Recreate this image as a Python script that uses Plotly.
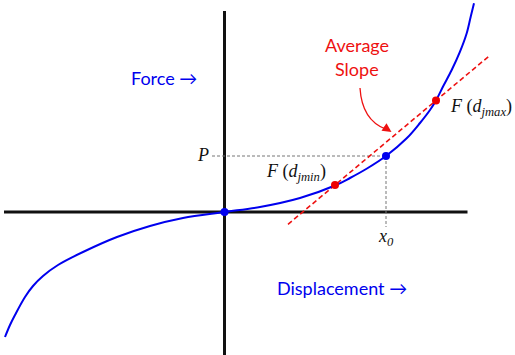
import plotly.graph_objects as go

# Force-displacement curve (x: displacement, y: force)
curve_x = [-219.5, -214.5, -209.5, -199.5, -191.5, -181.5, -166.5, -141.5, -107.5, -74.5, -41.5, 0,
           35.5, 75.5, 110.5, 125.5, 142.5, 161.5, 182.2, 195.5, 205.5, 211.5, 218.8, 227.2,
           235.5, 242.2, 246.2, 249.5]
curve_y = [-125, -113, -103, -85, -74, -64, -53, -40, -25, -14, -6, 0,
           5, 14, 26.5, 34, 43.5, 56, 73.7, 89, 102, 111.5, 126, 142,
           160.3, 178.7, 195.3, 208.7]

# highlighted points
blue_x = [0, 161.5]
blue_y = [0, 56]
red_x = [110.5, 211.5]
red_y = [27, 111.5]

# axis extents
axis_h_x = [-220.5, 243]
axis_v_y = [-143, 201]

# average slope line extent (x)
slope_x_ext = [63.5, 264.5]

# guide lines ends
p_guide_x = -12.5
x0_guide_y = -15

fig = go.Figure()

# axes
fig.add_trace(go.Scatter(x=axis_h_x, y=[0, 0], mode="lines",
                         line=dict(color="#111111", width=3), hoverinfo="skip"))
fig.add_trace(go.Scatter(x=[0, 0], y=axis_v_y, mode="lines",
                         line=dict(color="#111111", width=3), hoverinfo="skip"))

# guide dashed lines
fig.add_trace(go.Scatter(x=[p_guide_x, blue_x[1]], y=[blue_y[1], blue_y[1]], mode="lines",
                         line=dict(color="#777777", width=1, dash="3px,2px"), hoverinfo="skip"))
fig.add_trace(go.Scatter(x=[blue_x[1], blue_x[1]], y=[blue_y[1], x0_guide_y], mode="lines",
                         line=dict(color="#777777", width=1, dash="3px,2px"), hoverinfo="skip"))

# average slope line through red points
m = (red_y[1] - red_y[0]) / (red_x[1] - red_x[0])
sl_y = [red_y[0] + m * (xx - red_x[0]) for xx in slope_x_ext]
fig.add_trace(go.Scatter(x=slope_x_ext, y=sl_y, mode="lines",
                         line=dict(color="#ee1111", width=1.6, dash="5px,3px"), hoverinfo="skip"))

# curve
fig.add_trace(go.Scatter(x=curve_x, y=curve_y, mode="lines",
                         line=dict(color="#0000ee", width=2, shape="spline", smoothing=1.0),
                         hoverinfo="skip"))

# markers
fig.add_trace(go.Scatter(x=blue_x, y=blue_y, mode="markers",
                         marker=dict(color="#0000ee", size=8), hoverinfo="skip"))
fig.add_trace(go.Scatter(x=red_x, y=red_y, mode="markers",
                         marker=dict(color="#ee0000", size=8), hoverinfo="skip"))

# curved arrow
fig.add_shape(type="path", path="M 135.5,124 Q 137.5,92 161,83",
              line=dict(color="#ee1111", width=1.3), xref="x", yref="y")

sans = "Lato"
serif = "Liberation Serif"
ann = [
    dict(x=-60.5, y=134, text="Force \u2192", font=dict(family=sans, size=18, color="#0000ee")),
    dict(x=117.5, y=-76, text="Displacement \u2192", font=dict(family=sans, size=18, color="#0000ee")),
    dict(x=132.5, y=167, text="Average", font=dict(family=sans, size=18, color="#ee1111")),
    dict(x=132.5, y=143, text="Slope", font=dict(family=sans, size=18, color="#ee1111")),
    dict(x=-21.5, y=57, text="<i>P</i>", font=dict(family=serif, size=18, color="#111111")),
    dict(x=71, y=40, text="<i>F</i> (<i>d</i><sub><i>jmin</i></sub>)",
         font=dict(family=serif, size=18, color="#111111")),
    dict(x=256, y=105, text="<i>F</i> (<i>d</i><sub><i>jmax</i></sub>)",
         font=dict(family=serif, size=18, color="#111111")),
    dict(x=161, y=-25, text="<i>x</i><sub><i>0</i></sub>",
         font=dict(family=serif, size=18, color="#111111")),
]
for a in ann:
    fig.add_annotation(xref="x", yref="y", showarrow=False, **a)

fig.add_annotation(x=167, y=80, ax=-9, ay=-6, xref="x", yref="y", axref="pixel", ayref="pixel",
                   showarrow=True, arrowhead=2, arrowsize=1.2, arrowwidth=1.5,
                   arrowcolor="#ee1111", standoff=0, text="")

fig.update_layout(
    width=515, height=355,
    margin=dict(l=0, r=0, t=0, b=0),
    paper_bgcolor="white", plot_bgcolor="white",
    showlegend=False,
    xaxis=dict(range=[-224.5, 290.5], visible=False, fixedrange=True),
    yaxis=dict(range=[-143, 212], visible=False, fixedrange=True),
)

fig.write_html("out.html")
